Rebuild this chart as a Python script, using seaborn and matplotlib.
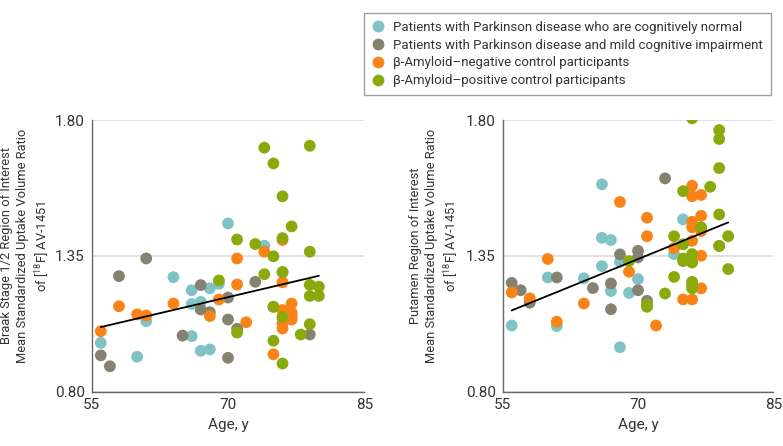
import numpy as np
import pandas as pd
import matplotlib
matplotlib.use("Agg")
import matplotlib.pyplot as plt
import seaborn as sns

# group names (legend order)
groups = [
    "Patients with Parkinson disease who are cognitively normal",
    "Patients with Parkinson disease and mild cognitive impairment",
    "\u03b2-Amyloid\u2013negative control participants",
    "\u03b2-Amyloid\u2013positive control participants",
]
colors = ["#7fc3c7", "#85826f", "#f98316", "#8aaa0c"]

# ages, y (shared by both panels)
age_pd_normal = [56, 60, 61, 64, 66, 66, 66, 67, 67, 68, 68, 69, 70, 74, 75]
age_pd_mci = [56, 57, 58, 61, 65, 67, 67, 68, 70, 70, 70, 71, 73, 79]
age_amy_neg = [56, 58, 60, 61, 64, 68, 69, 71, 71, 72, 74, 75,
               76, 76, 76, 76, 76, 76, 77, 77, 77, 77, 77]
age_amy_pos = [69, 71, 71, 73, 74, 74, 75, 75, 75, 75, 76, 76, 76,
               76, 76, 76, 77, 78, 79, 79, 79, 79, 79, 80, 80]

# Braak stage 1/2 SUVR
braak_pd_normal = [0.979, 0.928, 1.059, 1.221, 1.173, 1.122, 1.004, 1.130, 0.950,
                   1.180, 0.955, 1.197, 1.419, 1.337, 1.112]
braak_pd_mci = [0.933, 0.893, 1.225, 1.290, 1.006, 1.192, 1.102, 1.092, 1.146,
                1.065, 0.924, 1.031, 1.204, 1.010]
braak_amy_neg = [1.022, 1.114, 1.084, 1.080, 1.124, 1.078, 1.139, 1.290, 1.194,
                 1.055, 1.315, 0.937, 1.358, 1.202, 1.100, 1.051, 1.032, 1.070,
                 1.124, 1.081, 1.065, 1.070, 1.090]
braak_amy_pos = [1.209, 1.360, 1.017, 1.343, 1.698, 1.232, 1.640, 1.298, 1.112,
                 0.987, 1.519, 1.365, 1.239, 1.075, 0.903, 1.240, 1.408, 1.010,
                 1.705, 1.315, 1.193, 1.152, 1.048, 1.186, 1.152]

# Putamen SUVR
putamen_pd_normal = [1.043, 1.220, 1.041, 1.217, 1.563, 1.366, 1.262, 1.358, 1.170,
                     1.278, 0.963, 1.163, 1.214, 1.306, 1.434]
putamen_pd_mci = [1.200, 1.173, 1.127, 1.220, 1.181, 1.198, 1.103, 1.305, 1.318,
                  1.294, 1.173, 1.134, 1.585, 1.336]
putamen_amy_neg = [1.165, 1.143, 1.288, 1.057, 1.124, 1.498, 1.241, 1.440, 1.372,
                   1.043, 1.328, 1.139, 1.558, 1.519, 1.425, 1.405, 1.355, 1.139,
                   1.524, 1.447, 1.391, 1.300, 1.180]
putamen_amy_pos = [1.280, 1.112, 1.120, 1.161, 1.372, 1.222, 1.538, 1.342, 1.280,
                   1.290, 1.806, 1.306, 1.275, 1.204, 1.192, 1.180, 1.405, 1.554,
                   1.763, 1.730, 1.623, 1.452, 1.336, 1.372, 1.251]

x_ticks = [55, 70, 85]
y_ticks = [0.80, 1.30, 1.80]
y_tick_labels = ["0.80", "1.35", "1.80"]

ages = [age_pd_normal, age_pd_mci, age_amy_neg, age_amy_pos]


def build_frame(values):
    rows = []
    for g, a, v in zip(groups, ages, values):
        rows.append(pd.DataFrame({"age": a, "suvr": v, "group": g}))
    return pd.concat(rows, ignore_index=True)


df_braak = build_frame([braak_pd_normal, braak_pd_mci, braak_amy_neg, braak_amy_pos])
df_putamen = build_frame([putamen_pd_normal, putamen_pd_mci, putamen_amy_neg, putamen_amy_pos])

sns.set_style("white")
plt.rcParams["font.family"] = ["Roboto", "DejaVu Sans"]
plt.rcParams["mathtext.fontset"] = "custom"
plt.rcParams["mathtext.rm"] = "Roboto"
plt.rcParams["mathtext.it"] = "Roboto"

fig = plt.figure(figsize=(7.83, 4.46), dpi=100)
ax1 = fig.add_axes([91.7 / 783, 54.5 / 446, 272.6 / 783, 271.5 / 446])
ax2 = fig.add_axes([502.7 / 783, 54.5 / 446, 270.6 / 783, 271.5 / 446])

ylabels = [
    "Braak Stage 1/2 Region of Interest\nMean Standardized Uptake Volume Ratio\nof [$^{18}$F] AV-1451",
    "Putamen Region of Interest\nMean Standardized Uptake Volume Ratio\nof [$^{18}$F] AV-1451",
]
axis_col = "#666666"
text_col = "#333333"

for ax, df, yl in zip([ax1, ax2], [df_braak, df_putamen], ylabels):
    sns.scatterplot(data=df, x="age", y="suvr", hue="group", hue_order=groups,
                    palette=colors, s=72, linewidth=0, alpha=1, ax=ax, legend=False,
                    zorder=3)
    sns.regplot(data=df, x="age", y="suvr", scatter=False, ci=None, ax=ax,
                line_kws={"color": "black", "lw": 1.3, "zorder": 4})
    ax.set_xlim(55, 85)
    ax.set_ylim(0.80, 1.80)
    ax.set_xticks(x_ticks)
    ax.set_yticks(y_ticks)
    ax.set_yticklabels(y_tick_labels)
    ax.yaxis.grid(True, color="#dddddd", lw=1.2, zorder=0)
    ax.xaxis.grid(False)
    for sp in ["top", "right"]:
        ax.spines[sp].set_visible(False)
    for sp in ["left", "bottom"]:
        ax.spines[sp].set_color(axis_col)
        ax.spines[sp].set_linewidth(1)
    ax.tick_params(axis="both", length=4, width=1, color=axis_col,
                   labelcolor=text_col, labelsize=11, pad=1, direction="out")
    ax.set_xlabel("Age, y", fontsize=11, color=text_col, labelpad=4)
    ax.set_ylabel(yl, fontsize=9.3, color=text_col, linespacing=1.3)

ax1.yaxis.set_label_coords(-0.146, 0.536)
ax2.yaxis.set_label_coords(-0.154, 0.536)

handles = [plt.Line2D([], [], marker="o", ls="", markersize=8.5, markerfacecolor=c,
                      markeredgewidth=0) for c in colors]
leg = fig.legend(handles, groups, loc="upper right",
                 bbox_to_anchor=(770.5 / 783, 1 - 13 / 446), frameon=True,
                 fancybox=False, fontsize=9.5, handletextpad=0.6,
                 labelspacing=0.36, borderpad=0.6, handlelength=1.0,
                 borderaxespad=0)
leg.get_frame().set_edgecolor("#888888")
leg.get_frame().set_linewidth(1)
for t in leg.get_texts():
    t.set_color(text_col)

fig.savefig("out.png", dpi=100)
